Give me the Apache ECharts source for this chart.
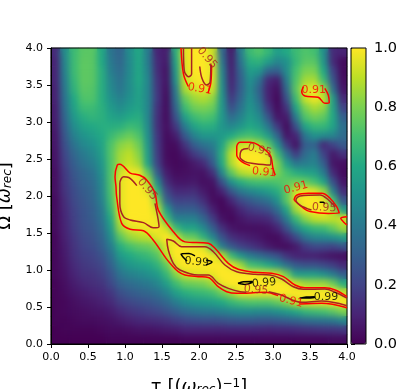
<!DOCTYPE html>
<html>
<head>
<meta charset="utf-8">
<style>html,body{margin:0;padding:0;background:#fff}#main{width:407px;height:389px}</style>
<script src="https://cdn.jsdelivr.net/npm/echarts@6/dist/echarts.min.js"></script>
</head>
<body>
<div id="main"></div>
<script>
// fidelity in percent, rows from Omega = 4 (top) down to 0, columns tau = 0 to 4
const fidelityRows = [
  [12,48,68,74,74,60,38,32,48,60,42,10,8,62,96,100,100,92,35,7,42,68,72,66,55,60,68,72,70,50,12,10],
  [10,45,68,75,74,60,40,33,47,60,42,12,7,58,95,100,100,95,40,8,38,62,64,55,45,50,66,74,74,52,12,3],
  [10,44,68,75,74,62,42,35,47,60,44,13,5,54,94,100,100,96,45,9,33,55,52,33,30,48,70,80,80,60,20,3],
  [10,42,66,75,74,62,45,37,48,60,46,15,5,50,92,98,100,95,48,10,30,50,38,12,8,42,72,86,87,68,27,4],
  [9,40,64,74,73,62,47,39,48,58,46,16,4,42,87,94,96,92,50,12,30,48,32,9,4,34,74,94,97,85,37,6],
  [9,38,60,72,72,62,50,43,50,57,46,17,3,38,76,85,88,83,52,17,33,50,36,10,2,25,68,92,98,92,55,12],
  [8,36,57,68,68,63,54,48,54,58,46,15,3,32,68,78,80,77,53,24,38,52,42,16,3,15,58,80,87,83,58,20],
  [8,33,53,62,65,63,58,55,60,62,46,14,3,25,56,68,72,70,53,35,44,55,48,27,6,7,42,72,78,75,60,30],
  [7,30,48,57,60,62,62,63,68,66,48,14,4,16,42,58,63,62,52,46,52,60,55,40,17,3,25,58,66,66,58,36],
  [6,27,43,51,55,60,67,73,77,72,50,16,3,8,28,44,52,52,54,60,67,70,66,55,33,6,10,40,50,48,45,35],
  [6,24,38,46,50,58,72,82,85,78,53,17,3,3,15,30,38,42,58,80,92,94,88,75,50,18,5,30,32,12,20,28],
  [5,21,33,41,46,55,73,86,90,82,55,18,3,2,7,17,25,35,62,90,100,100,100,95,68,38,18,35,42,20,7,14],
  [5,19,30,37,42,52,72,87,92,86,58,20,4,2,3,7,12,28,60,88,100,100,100,98,80,55,40,42,45,30,6,4],
  [4,17,27,33,38,49,72,93,98,97,75,30,8,3,4,5,5,14,46,75,88,92,92,90,80,70,62,58,55,42,12,3],
  [4,16,25,31,35,47,72,96,100,100,88,48,13,6,6,7,4,5,26,50,62,68,70,70,72,75,78,76,70,58,25,6],
  [4,15,23,29,33,45,71,96,100,100,96,65,22,12,12,13,7,3,10,27,40,46,50,55,62,75,92,97,95,84,43,13],
  [3,13,22,27,32,43,69,96,100,100,100,80,32,20,20,20,13,4,2,11,22,28,33,38,50,74,95,100,100,98,70,27],
  [3,12,20,26,30,40,65,95,100,100,100,92,55,30,30,30,22,9,2,4,11,17,20,24,36,58,86,98,100,100,88,55],
  [3,11,19,25,29,38,60,92,100,100,100,98,70,44,43,43,33,18,5,2,6,9,10,12,22,42,66,82,90,92,90,93],
  [3,10,18,24,27,35,54,85,95,97,98,99,92,68,58,58,47,30,14,6,4,4,4,5,10,25,45,60,66,68,76,85],
  [2,9,16,22,25,32,48,74,84,88,90,95,100,94,78,76,64,46,26,14,10,8,6,3,3,10,22,38,45,47,50,55],
  [2,8,15,20,23,29,42,62,70,74,76,82,95,100,100,98,95,72,42,28,20,16,12,7,4,3,7,17,22,22,20,25],
  [2,7,14,18,20,25,36,54,60,64,67,73,90,100,100,100,100,97,90,68,52,42,36,30,25,15,10,9,9,7,5,4],
  [2,6,12,16,18,21,31,45,52,55,58,64,76,96,100,100,100,100,100,96,86,70,66,60,50,37,28,25,25,22,18,12],
  [2,5,10,14,15,18,26,38,43,46,49,54,66,82,93,95,96,97,100,100,100,100,99,97,93,78,55,55,55,50,42,30],
  [1,4,8,11,13,15,22,31,35,38,41,45,55,68,76,78,80,86,98,100,100,100,100,100,100,99,92,86,85,85,78,62],
  [1,3,6,8,10,12,16,24,28,31,33,37,44,55,62,65,67,70,78,86,97,98,97,97,100,100,100,100,100,100,100,92],
  [1,2,4,6,7,9,12,18,21,24,26,29,34,42,48,52,54,56,60,66,70,72,72,72,76,82,92,96,97,97,99,100],
  [1,2,3,4,5,6,8,12,15,17,19,21,25,30,35,38,40,41,43,46,48,48,47,47,50,54,59,65,68,70,74,80],
  [1,1,2,3,3,4,5,7,9,11,12,13,15,18,21,23,24,24,25,27,28,28,27,27,28,30,32,35,37,38,40,45],
  [0,1,1,1,1,2,3,3,4,5,5,6,7,8,10,10,10,10,10,11,11,11,11,10,11,11,12,13,14,15,15,16],
  [0,0,0,0,0,0,1,1,1,1,1,1,1,1,2,2,2,2,2,2,2,2,2,2,2,2,2,2,2,2,3,3]
];

// contour pieces, [tau, Omega]
const c91Ridge = [[4,.64],[3.84,.73],[3.7,.76],[3.43,.76],[3.297,.797],[3.14,.91],[2.98,.955],[2.757,.968],[2.53,1.01],[2.396,1.09],[2.216,1.293],[2.126,1.36],[1.81,1.38],[1.653,1.518],[1.45,1.81],[1.405,2.04],[1.29,2.22],[1.2,2.28],[1.07,2.31],[.93,2.43],[.896,2.42],[.865,2.26],[.878,2.13],[.887,1.99],[.955,1.63],[1.07,1.55],[1.25,1.53],[1.38,1.405],[1.56,1.15],[1.63,1.068],[1.72,.977],[1.81,.932],[1.99,.91],[2.126,.9],[2.26,.775],[2.374,.707],[2.51,.685],[2.7,.69],[2.89,.7],[3.07,.653]];
const c91Tail = [[3.365,.54],[3.658,.55],[4,.49]];
const c91TopLeft = [[1.757,4],[1.79,3.65],[1.856,3.48]];
const c91TopRight = [[2.17,3.77],[2.16,3.53],[2.12,3.39]];
const c91Mid = [[3.03,2.28],[3,2.374],[2.96,2.554],[2.8,2.69],[2.69,2.725],[2.554,2.725],[2.51,2.666],[2.51,2.554],[2.577,2.464],[2.69,2.41]];
const c91Right = [[3.284,1.946],[3.32,2.01],[3.477,2.036],[3.658,2.036],[3.77,1.97],[3.86,1.855],[3.896,1.766],[3.75,1.765],[3.5,1.79],[3.42,1.83],[3.284,1.946]];
const c91Corner = [[4,1.72],[3.915,1.7],[3.95,1.653],[4,1.608]];
const c91Upper = [[3.41,3.477],[3.388,3.41],[3.432,3.351],[3.61,3.334],[3.7,3.253],[3.76,3.26],[3.747,3.365],[3.7,3.455]];
const c95Blob = [[1.16,2.14],[1.05,2.25],[.98,2.26],[.93,2.17],[.93,1.9],[.98,1.72],[1.07,1.676],[1.25,1.64],[1.38,1.57],[1.46,1.585],[1.405,1.9]];
const c95Ridge = [[4,.62],[3.84,.7],[3.7,.743],[3.41,.74],[3.275,.774],[3.117,.878],[2.96,.932],[2.757,.942],[2.51,.977],[2.35,1.068],[2.194,1.247],[2.08,1.315],[1.766,1.315],[1.653,1.392],[1.564,1.414],[1.585,1.27],[1.653,1.09],[1.743,1],[1.99,.932],[2.126,.932],[2.26,.82],[2.396,.752],[2.554,.707],[2.64,.7]];
const c95Tail = [[2.94,.707],[3.09,.67],[3.39,.563],[3.658,.58],[4,.518]];
const c95TopLeft = [[1.79,4],[1.8,3.7],[1.86,3.61],[1.9,3.65],[1.9,4]];
const c95TopRight = [[2.01,3.75],[2.04,3.59],[2.1,3.5],[2.15,3.54],[2.16,3.79]];
const c95Mid = [[2.666,2.643],[2.577,2.62],[2.554,2.53],[2.62,2.464],[2.733,2.44],[2.96,2.42],[2.973,2.51],[2.94,2.55]];
const c95Right = [[3.52,1.81],[3.365,1.878],[3.31,1.946],[3.365,2],[3.635,2.014],[3.75,1.946],[3.84,1.855]];
const c99A = [[1.838,1.12],[1.784,1.176],[1.757,1.216],[1.865,1.223],[1.946,1.19]];
const c99B = [[2.095,1.135],[2.176,1.108],[2.095,1.068]];
const c99C = [[2.527,.82],[2.6,.842],[2.72,.845],[2.716,.83],[2.62,.805],[2.527,.82]];
const c99D = [[3.36,.62],[3.45,.635],[3.56,.64],[3.56,.625],[3.45,.62],[3.36,.62]];
const c99E = [[3.63,1.915],[3.68,1.915],[3.7,1.89]];

const contours91 = [c91Ridge, c91Tail, c91TopLeft, c91TopRight, c91Mid, c91Right, c91Corner, c91Upper];
const contours95 = [c95Blob, c95Ridge, c95Tail, c95TopLeft, c95TopRight, c95Mid, c95Right];
const contours99 = [c99A, c99B, c99C, c99D, c99E];

// inline contour labels: tau, Omega, angle, level
const contourLabels = [
  [1.3, 2.09, -50, '0.95'],
  [1.97, 1.108, -5, '0.99'],
  [2.88, .824, 5, '0.99'],
  [2.77, .73, -5, '0.95'],
  [3.243, .58, -15, '0.91'],
  [3.716, .635, 0, '0.99'],
  [3.31, 2.11, 15, '0.91'],
  [3.69, 1.84, -3, '0.95'],
  [2.82, 2.62, -15, '0.95'],
  [2.88, 2.32, -5, '0.91'],
  [3.55, 3.43, 0, '0.91'],
  [2.11, 3.865, -50, '0.95'],
  [2.01, 3.445, -10, '0.91']
];
const levelColors = { '0.91': '#ff0000', '0.95': '#a82222', '0.99': '#000000' };
const viridis = ['#440154','#482475','#414487','#355f8d','#2a788e','#21918c','#22a884','#44bf70','#7ad151','#bddf26','#fde725'];

const FONT = 'DejaVu Sans';
const TOP_LAYER = 2;

const cells = [];
fidelityRows.forEach(function (row, i) {
  row.forEach(function (v, j) { cells.push([j, i, v / 100]); });
});
const cellIndex = fidelityRows[0].map(function (_, i) { return i; });

function heatSeries(zlevel) {
  return {
    type: 'heatmap', xAxisIndex: 0, yAxisIndex: 0, data: cells, zlevel: zlevel,
    silent: true, progressive: 0, animation: false
  };
}
function contourSeries(points, color) {
  return {
    type: 'line', xAxisIndex: 1, yAxisIndex: 1, data: points, smooth: 0.35, symbol: 'none',
    zlevel: TOP_LAYER, z: 5, silent: true, lineStyle: { color: color, width: 1.5 }
  };
}
const axisTitle = {
  a: { fontFamily: FONT, fontSize: 18, color: '#000' },
  b: { fontFamily: FONT, fontSize: 18, fontStyle: 'italic', color: '#000' },
  c: { fontFamily: FONT, fontSize: 12, fontStyle: 'italic', color: '#000', verticalAlign: 'bottom', lineHeight: 16 },
  d: { fontFamily: FONT, fontSize: 12, color: '#000', verticalAlign: 'top', lineHeight: 16 }
};
function valueAxis(extra) {
  return Object.assign({
    type: 'value', gridIndex: 1, min: 0, max: 4, interval: 0.5, zlevel: TOP_LAYER,
    splitLine: { show: false },
    axisLine: { show: true, onZero: false, lineStyle: { color: '#000', width: 1 } },
    axisTick: { show: true, length: 4, lineStyle: { color: '#000', width: 1 } },
    axisLabel: { fontFamily: FONT, fontSize: 11, color: '#000', margin: 8, formatter: function (v) { return v.toFixed(1); } }
  }, extra);
}

const series = [heatSeries(0), heatSeries(1)];
contours91.forEach(function (p) { series.push(contourSeries(p, levelColors['0.91'])); });
contours95.forEach(function (p) { series.push(contourSeries(p, levelColors['0.95'])); });
contours99.forEach(function (p) { series.push(contourSeries(p, levelColors['0.99'])); });
series.push({
  type: 'scatter', xAxisIndex: 1, yAxisIndex: 1, symbolSize: 0, zlevel: TOP_LAYER, z: 6, silent: true,
  data: contourLabels.map(function (l) {
    return {
      value: [l[0], l[1]],
      label: {
        show: true, position: 'inside', formatter: l[3], rotate: l[2],
        fontFamily: FONT, fontSize: 11, color: levelColors[l[3]]
      }
    };
  })
});

const chart = echarts.init(document.getElementById('main'), null, { renderer: 'canvas' });
chart.setOption({
  animation: false,
  backgroundColor: '#fff',
  tooltip: { show: false },
  grid: [
    { left: 51, top: 48, width: 296, height: 296, outerBoundsMode: 'none' },
    { left: 51, top: 48, width: 296, height: 296, outerBoundsMode: 'none', show: true, borderColor: '#000', borderWidth: 1, backgroundColor: 'transparent', zlevel: TOP_LAYER },
    { left: 351, top: 48, width: 15, height: 296, outerBoundsMode: 'none', show: true, borderColor: '#000', borderWidth: 1, backgroundColor: 'transparent', zlevel: TOP_LAYER, z: 10 }
  ],
  xAxis: [
    { type: 'category', gridIndex: 0, data: cellIndex, show: false },
    valueAxis({
      position: 'bottom',
      name: '{a|τ [(}{b|ω}{c|rec}{a|)}{d|−1}{a|]}',
      nameLocation: 'middle', nameGap: 34, nameMoveOverlap: false, nameTextStyle: { rich: axisTitle }
    }),
    { type: 'value', gridIndex: 2, min: 0, max: 1, show: false }
  ],
  yAxis: [
    { type: 'category', gridIndex: 0, data: cellIndex, inverse: true, show: false },
    valueAxis({
      position: 'left',
      name: '{a|Ω [}{b|ω}{c|rec}{a|]}',
      nameLocation: 'middle', nameGap: 37, nameRotate: 90, nameMoveOverlap: false, nameTextStyle: { rich: axisTitle }
    }),
    {
      type: 'value', gridIndex: 2, position: 'right', min: 0, max: 1, interval: 0.2, zlevel: TOP_LAYER,
      splitLine: { show: false },
      axisLine: { show: false },
      axisTick: { show: true, length: 4, lineStyle: { color: '#000', width: 1 } },
      axisLabel: { fontFamily: FONT, fontSize: 14.5, color: '#000', margin: 8, formatter: function (v) { return v.toFixed(1); } }
    }
  ],
  visualMap: {
    type: 'continuous', min: 0, max: 1, seriesIndex: [0, 1], left: 351, top: 48, itemWidth: 15, itemHeight: 296,
    padding: 0, calculable: false, showLabel: false, text: null, hoverLink: false, zlevel: TOP_LAYER,
    inRange: { color: viridis }
  },
  series: series
});

// soften the cell edges on the second heatmap layer, clipped to the plot rectangle
const softLayer = document.querySelector('canvas[data-zr-dom-id="zr_1"]');
if (softLayer) {
  softLayer.style.filter = 'blur(3px)';
  softLayer.style.clipPath = 'inset(48px 60px 45px 51px)';
}
</script>
</body>
</html>
